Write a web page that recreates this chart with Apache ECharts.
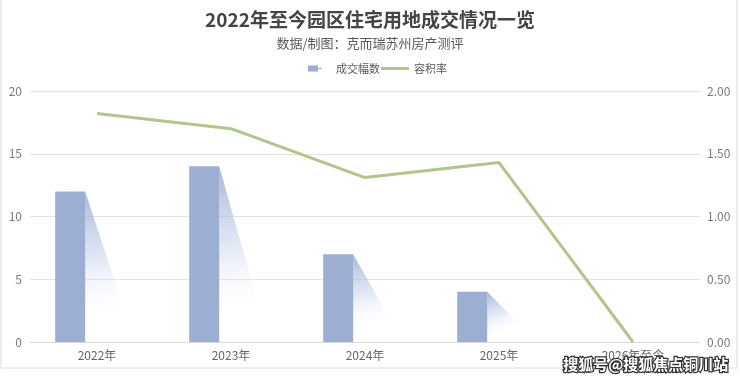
<!DOCTYPE html>
<html><head><meta charset="utf-8">
<script src="https://cdn.jsdelivr.net/npm/echarts@6/dist/echarts.min.js"></script>
<style>html,body{margin:0;padding:0;background:#fff}#c{width:740px;height:380px}</style>
</head><body><div id="c"></div>
<script>
const categories = ['2022年', '2023年', '2024年', '2025年', '2026年至今'];
const dealCounts = [12, 14, 7, 4, 0];
const plotRatio = [1.82, 1.70, 1.31, 1.43, 0];
const leftTicks = [0, 5, 10, 15, 20];
const rightTicks = [0, 0.5, 1, 1.5, 2];
const seriesNames = ['成交幅数', '容积率'];

const barColor = '#9daed3';
const lineColor = '#b0c68a';
const FONT = '"Noto Sans CJK SC", "Noto Sans", sans-serif';

const chart = echarts.init(document.getElementById('c'), null, {renderer: 'canvas'});
chart.setOption({
  backgroundColor: '#fff',
  textStyle: {fontFamily: FONT},
  title: {
    text: '2022年至今园区住宅用地成交情况一览',
    subtext: '数据/制图：克而瑞苏州房产测评',
    left: 'center', top: 3, itemGap: 3,
    textStyle: {fontSize: 19, fontWeight: 'bold', color: '#444', lineHeight: 24, fontFamily: FONT},
    subtextStyle: {fontSize: 13, color: '#595959', lineHeight: 16, fontFamily: FONT}
  },
  legend: [
    {data: [seriesNames[0]], left: 300, top: 58, itemWidth: 26, itemHeight: 6,
     icon: 'path://M0,3H0.01V3.01H0Z M3,0H13V6H3Z M13,2.6H17V3.4H13Z M26,3H26.01V3.01H26Z',
     textStyle: {fontSize: 11, color: '#595959', fontFamily: FONT}},
    {data: [{name: seriesNames[1], icon: 'path://M0,0H28V3H0Z'}], left: 376, top: 58, itemWidth: 28, itemHeight: 3,
     itemStyle: {color: lineColor},
     textStyle: {fontSize: 11, color: '#595959', fontFamily: FONT}}
  ],
  grid: {left: 30, right: 40, top: 91, bottom: 38},
  xAxis: {
    type: 'category', data: categories,
    axisTick: {show: false},
    axisLine: {lineStyle: {color: '#d9d9d9'}},
    axisLabel: {color: '#666', fontSize: 12, margin: 7, fontFamily: FONT}
  },
  yAxis: [
    {type: 'value', min: leftTicks[0], max: leftTicks[leftTicks.length - 1], interval: leftTicks[1] - leftTicks[0],
     axisLine: {show: false}, axisTick: {show: false},
     splitLine: {lineStyle: {color: '#e3e3e3'}},
     axisLabel: {color: '#7a7a7a', fontSize: 12, margin: 8, fontFamily: FONT}},
    {type: 'value', min: rightTicks[0], max: rightTicks[rightTicks.length - 1], interval: rightTicks[1] - rightTicks[0],
     axisLine: {show: false}, axisTick: {show: false}, splitLine: {show: false},
     axisLabel: {color: '#7a7a7a', fontSize: 12, margin: 7, fontFamily: FONT,
                 formatter: v => v.toFixed(2)}}
  ],
  series: [
    {
      name: seriesNames[0], type: 'custom',
      itemStyle: {color: barColor},
      encode: {x: 0, y: 1},
      data: dealCounts.map((v, i) => [i, v]),
      renderItem: function (params, api) {
        const idx = api.value(0), v = api.value(1);
        if (!v) return null;
        const top = api.coord([idx, v]);
        const base = api.coord([idx, 0]);
        const band = api.size([1, 0])[0];
        const w = band * 0.224;
        const cx = top[0] - band * 0.2;
        const x0 = cx - w / 2, x1 = cx + w / 2;
        return {
          type: 'group',
          children: [
            {type: 'polygon',
             shape: {points: [[x1, top[1]], [x1, base[1]], [x1 + band * 0.37, base[1]]]},
             style: {fill: {type: 'linear', x: 0, y: 0, x2: 0.35, y2: 1,
               colorStops: [
                 {offset: 0, color: 'rgba(150,168,212,0.85)'},
                 {offset: 0.45, color: 'rgba(190,202,232,0.45)'},
                 {offset: 0.85, color: 'rgba(255,255,255,0)'}]}}},
            {type: 'rect', shape: {x: x0, y: top[1], width: w, height: base[1] - top[1]},
             style: {fill: barColor}}
          ]
        };
      }
    },
    {
      name: seriesNames[1], type: 'line', yAxisIndex: 1,
      data: plotRatio, symbol: 'none', showSymbol: false,
      lineStyle: {color: lineColor, width: 3},
      itemStyle: {color: lineColor}
    }
  ],
  graphic: [
    {type: 'rect', shape: {x: 1, y: -5, width: 736, height: 373},
     style: {fill: 'none', stroke: '#dcdcdc', lineWidth: 1}, silent: true, z: -1},
    {type: 'text', left: 562, top: 356,
     style: {text: '搜狐号@搜狐焦点铜川站', fill: '#fff', stroke: '#333', lineWidth: 2.5,
             fontSize: 15, fontWeight: 'bold', fontFamily: FONT}, z: 100}
  ]
});
</script>
</body></html>
